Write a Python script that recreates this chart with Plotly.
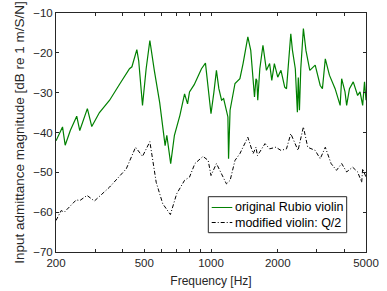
import plotly.graph_objects as go

# Original Rubio violin (green)
orig_freq = [200, 214, 220, 232, 248, 256, 277, 290, 314, 349, 387, 429, 440, 463, 472, 491, 510, 530,
             555, 587, 621, 632, 658, 684, 724, 760, 784, 800, 840, 874, 906, 944, 975, 1000, 1030, 1058,
             1085, 1116, 1140, 1174, 1192, 1200, 1210, 1219, 1283, 1350, 1395, 1466, 1511, 1549, 1571,
             1595, 1610, 1625, 1660, 1715, 1778, 1838, 1880, 1931, 2000, 2068, 2150, 2190, 2290, 2330,
             2400, 2452, 2475, 2505, 2540, 2610, 2680, 2790, 2950, 3108, 3180, 3277, 3420, 3628, 3823,
             3883, 4021, 4090, 4212, 4380, 4584, 4700, 4830, 4924, 5000]
orig_db = [-42.1, -38.6, -43.2, -39.5, -35.9, -39.5, -34.0, -38.5, -35.0, -31.9, -27.9, -24.0, -23.5,
           -19.2, -22.0, -33.2, -24.0, -16.9, -24.4, -32.5, -43.3, -40.7, -47.8, -40.7, -35.7, -30.3,
           -32.8, -29.8, -28.0, -26.1, -24.0, -22.6, -29.0, -35.3, -30.0, -24.4, -29.0, -31.9, -31.5,
           -34.4, -36.1, -46.6, -36.0, -34.4, -27.7, -26.5, -22.7, -16.0, -19.4, -26.9, -31.1, -26.5,
           -26.9, -31.9, -24.0, -18.1, -24.4, -22.7, -26.9, -22.7, -26.1, -24.4, -28.6, -29.0, -15.2,
           -19.4, -24.0, -34.9, -26.2, -34.4, -24.0, -13.9, -19.4, -24.4, -23.1, -28.2, -29.0, -21.5,
           -25.6, -29.0, -33.2, -26.5, -29.8, -33.2, -29.0, -27.3, -30.7, -29.8, -33.2, -27.3, -31.9]

# Modified violin Q/2 (black dash-dot)
mod_freq = [200, 211, 218, 247, 256, 276, 298, 349, 415, 457, 491, 530, 566, 606, 656, 700, 760, 800,
            846, 920, 971, 1000, 1058, 1174, 1220, 1283, 1350, 1466, 1549, 1595, 1620, 1752, 1838, 1960,
            2068, 2190, 2290, 2469, 2610, 2730, 2950, 3108, 3277, 3480, 3680, 3883, 4090, 4350, 4584,
            4780, 4830, 5000]
mod_db = [-62.1, -59.6, -60.0, -56.9, -57.1, -55.8, -57.2, -53.7, -49.1, -43.7, -46.0, -42.3, -52.5,
          -57.9, -60.6, -55.4, -52.0, -51.2, -47.8, -46.0, -47.0, -50.8, -47.8, -52.9, -52.0, -47.0,
          -45.3, -41.2, -45.3, -43.7, -45.8, -42.8, -44.1, -43.7, -44.5, -44.1, -40.3, -44.5, -38.6,
          -43.7, -44.5, -46.6, -43.7, -47.8, -49.5, -47.8, -49.9, -48.7, -49.9, -52.5, -49.1, -51.2]

series_names = ["original Rubio violin", "modified violin: Q/2"]
series_colors = ["rgb(0,128,0)", "black"]
series_dash = ["solid", "4px,2px,1px,2px"]

x_tickvals = [200, 300, 400, 500, 600, 700, 800, 900, 1000, 2000, 3000, 4000, 5000]
x_ticktext = ["200", "", "", "500", "", "", "", "", "1000", "2000", "", "", "5000"]
y_tickvals = [-70, -60, -50, -40, -30, -20, -10]

axis_color = "#262626"
font_family = "Liberation Sans, Arial, sans-serif"

fig = go.Figure()
fig.add_trace(go.Scatter(x=orig_freq, y=orig_db, mode="lines", name=series_names[0],
                         line=dict(color=series_colors[0], width=1.2, dash=series_dash[0])))
fig.add_trace(go.Scatter(x=mod_freq, y=mod_db, mode="lines", name=series_names[1],
                         line=dict(color=series_colors[1], width=1, dash=series_dash[1])))

# Compact boxed legend (MATLAB style) drawn in paper coordinates
box = dict(x0=0.4913, x1=0.9377, y0=0.0808, y1=0.2314)
rows_y = [0.1862, 0.1234]
sample_x = [0.5023, 0.5687]
text_x = 0.5726
shapes = [dict(type="rect", xref="paper", yref="paper", **box,
               line=dict(color=axis_color, width=1), fillcolor="white", layer="above")]
annotations = []
for name, color, dash, yy in zip(series_names, series_colors, series_dash, rows_y):
    shapes.append(dict(type="line", xref="paper", yref="paper", x0=sample_x[0], x1=sample_x[1],
                       y0=yy, y1=yy, line=dict(color=color, width=1, dash=dash), layer="above"))
    annotations.append(dict(xref="paper", yref="paper", x=text_x, y=yy, text=name, showarrow=False,
                            xanchor="left", yanchor="middle", borderpad=0,
                            font=dict(size=12.5, color="black", family=font_family)))

fig.update_layout(
    width=387, height=291,
    margin=dict(l=56, r=21, t=13, b=39),
    paper_bgcolor="white", plot_bgcolor="white",
    font=dict(family=font_family, size=12, color=axis_color),
    showlegend=False,
    shapes=shapes,
    annotations=annotations,
)
fig.update_xaxes(type="log", range=[2.30103, 3.69897], tickvals=x_tickvals, ticktext=x_ticktext,
                 ticks="inside", ticklen=3, tickcolor=axis_color, showline=True, linecolor=axis_color,
                 linewidth=1, mirror="ticks", showgrid=False, zeroline=False, automargin=False,
                 ticklabeloverflow="allow",
                 title=dict(text="Frequency [Hz]", standoff=8, font=dict(size=12)),
                 tickfont=dict(size=11.5))
fig.update_yaxes(range=[-70, -10], tickvals=y_tickvals,
                 ticks="inside", ticklen=3, tickcolor=axis_color, showline=True, linecolor=axis_color,
                 linewidth=1, mirror="ticks", showgrid=False, zeroline=False, automargin=False,
                 ticklabeloverflow="allow",
                 title=dict(text="Input admittance magnitude [dB re 1 m/S/N]", standoff=5,
                            font=dict(size=13.5)),
                 tickfont=dict(size=11.5))

# Remove the browser's default 8px body margin so the figure fills the window exactly
fig.write_html("out.html", config={"displayModeBar": False},
               post_script="document.body.style.margin='0px';document.body.style.overflow='hidden';")
